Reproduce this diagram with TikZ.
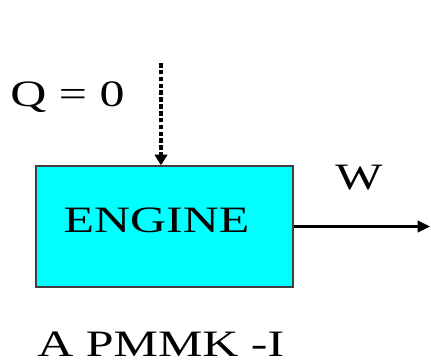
\documentclass[tikz,border=0pt]{standalone}
\usepackage{fontspec}
\setmainfont{Liberation Serif}
\newfontfamily\widefont[FakeStretch=1.34]{Liberation Serif}
\usetikzlibrary{arrows.meta}
\definecolor{enginecyan}{RGB}{0,255,255}

\begin{document}
\begin{tikzpicture}[
  txt/.style={inner sep=0pt,font=\widefont\fontsize{21.2}{24}\selectfont},
  enginebox/.style={draw=black!75,line width=.8pt,fill=enginecyan,
    minimum width=5.14cm,minimum height=2.42cm,inner sep=0pt},
  work/.style={line width=1.4pt,-{Triangle[length=7pt,width=6.5pt]}},
  heat/.style={line width=2pt,dash pattern=on 2.6pt off 1.3pt,
    -{Triangle[length=6pt,width=7pt]}}]
  \useasboundingbox (0,0) rectangle (8.62,7.28);
  % Engine block and its label.
  \node[enginebox] (engine) at (3.29,2.75) {};
  \node[txt,anchor=base] (enginelabel) at (3.13,2.62) {ENGINE};
  % Heat input (none) and work output.
  \coordinate (qstart) at (3.22,6.02);
  \coordinate (wend) at (8.60,2.75);
  \draw[heat] (qstart) -- (qstart |- engine.north);
  \draw[work] (engine.east) -- (wend);
  % Labels.
  \node[txt,anchor=base west] (qlabel) at (0.20,5.14) {Q = 0};
  \node[txt,anchor=base west] (wlabel) at (6.70,3.48) {W};
  \node[txt,anchor=base west] (caption) at (0.74,0.14) {A PMMK -I};
\end{tikzpicture}
\end{document}
